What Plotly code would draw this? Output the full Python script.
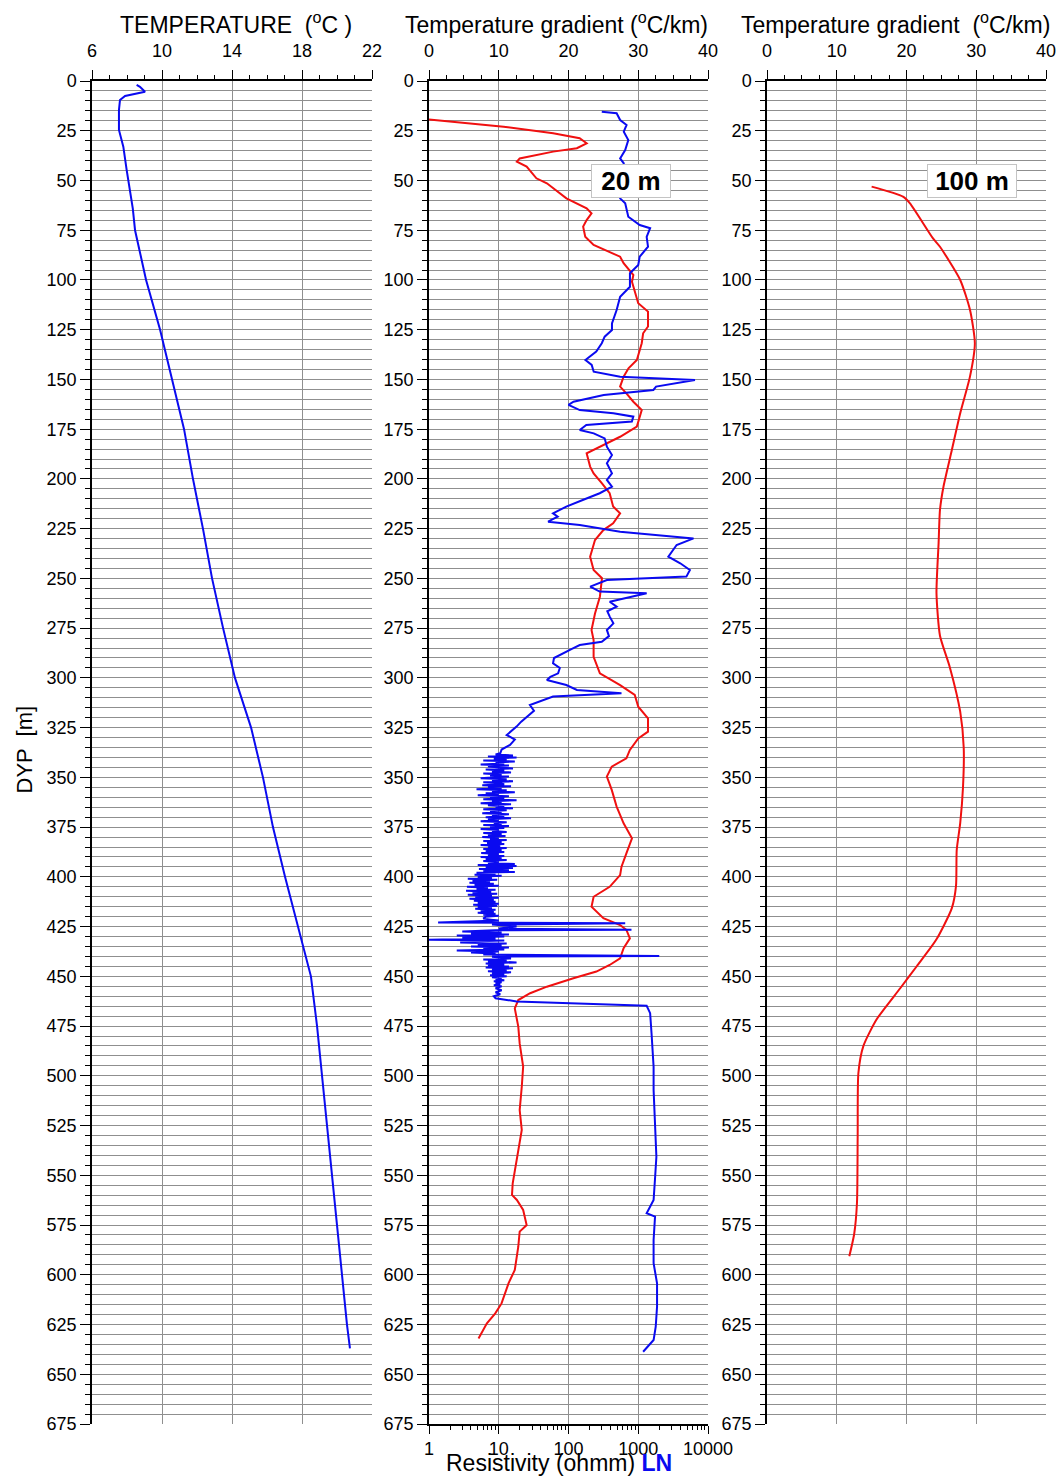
import plotly.graph_objects as go

# ---------------- data ----------------
# Temperature log
temp_depth = [2.0, 2.9, 5.4, 6.2, 7.5, 9.5, 14.6, 24.6, 29.7, 33, 44.7, 56.4, 64, 75,
              100, 125, 150, 175, 200, 225, 250, 275, 300, 325, 350, 375, 400, 425,
              450, 475, 500, 525, 550, 575, 600, 625, 637]
temp_c = [8.55, 8.74, 9.03, 8.55, 7.89, 7.6, 7.54, 7.54, 7.70, 7.79, 7.98, 8.17, 8.33, 8.46,
          9.09, 9.89, 10.57, 11.26, 11.77, 12.34, 12.86, 13.49, 14.17, 15.09, 15.77, 16.34,
          17.03, 17.77, 18.51, 18.86, 19.14, 19.43, 19.71, 20.0, 20.29, 20.57, 20.74]

# Temperature gradient over 20 m intervals
grad20_depth = [19.3, 23, 26.3, 28.8, 31.3, 33.8, 35.5, 38.9, 40.5, 43, 48.9, 51.4, 59, 64,
                66.5, 69.9, 73.2, 78.3, 82.4, 85.8, 88.3, 91.6, 97.5, 100.9, 111.7, 115.9,
                123.4, 126.8, 131.8, 140.2, 144.4, 148.6, 153.6, 157, 161.2, 165.4, 173.7,
                178.8, 183, 187.1, 193.8, 197.2, 202.2, 207.2, 213.9, 217.3, 222.3, 225.7,
                230.7, 239.1, 245.8, 249.9, 259.2, 267.6, 275.9, 281, 289.4, 297.7, 303.6,
                308.6, 314.5, 320.3, 327, 330.4, 336.2, 340.4, 344.6, 349.6, 356.3, 364.7,
                373.1, 380.6, 388.2, 394.9, 399.1, 405, 410, 415, 420.8, 424.2, 426.7,
                430.9, 435.9, 440.9, 444.3, 447.6, 451, 455.2, 458.5, 461.9, 466.1, 475.3,
                483.7, 495.4, 505.5, 517.2, 527.2, 537.3, 547.3, 554, 559.9, 562.4, 567.4,
                575, 578.3, 585.9, 597.6, 604.3, 614.4, 619.4, 624.4, 632]
grad20 = [0, 10.7, 17.8, 21.6, 22.6, 21.2, 17.8, 13.0, 12.6, 14.0, 15.4, 16.9, 19.7, 22.6,
          23.3, 22.6, 22.1, 22.4, 23.6, 25.9, 27.4, 27.9, 29.3, 29.1, 30.0, 31.4,
          31.4, 30.7, 30.5, 29.8, 28.6, 27.9, 27.4, 28.3, 29.3, 30.5, 29.8,
          27.4, 25.0, 22.6, 23.1, 23.6, 24.8, 25.9, 26.4, 27.4, 26.4, 25.0,
          23.8, 23.1, 23.6, 24.8, 24.5, 23.8, 23.3, 23.6, 23.6, 24.5, 27.4,
          29.5, 30.0, 31.4, 31.4, 30.0, 28.8, 28.3, 26.2, 25.5, 26.2, 26.9,
          27.9, 29.1, 28.3, 27.6, 27.4, 25.9, 23.6, 23.3, 25.0, 27.4, 28.3,
          28.8, 27.9, 27.4, 25.9, 24.0, 20.7, 16.9, 14.5, 12.8, 12.3, 12.8,
          13.0, 13.5, 13.3, 13.0, 13.3, 12.8, 12.3, 12.0, 11.9, 12.6, 13.5,
          14.0, 13.0, 12.8, 12.3, 11.4, 10.4, 9.5, 8.3, 7.1]

# Resistivity log (LN), ohmm -- upper part, down to the conductive zone
res_upper_depth = [15.4, 16.2, 19.6, 22.1, 25.5, 29.7, 34.7, 38.9, 41.4, 46, 51, 55, 59,
                   61.5, 68.2, 72.4, 74, 78.3, 83.3, 88.3, 92.5, 96.6, 103.4, 108.4, 115.1,
                   121.8, 125.2, 128.5, 131.8, 136, 140.2, 142.7, 146.1, 148.6, 150.3, 153.6,
                   155.3, 157.8, 161.2, 162.8, 165.4, 167, 168.7, 171.2, 172.9, 175.4, 177.1,
                   179.6, 183.8, 188, 192.1, 197.2, 200.5, 203.9, 207.2, 210.6, 213.9, 217.3,
                   219, 221.5, 223.2, 226.5, 229.9, 233.2, 239.1, 242.4, 245.8, 249.1, 250.8,
                   254.1, 256.6, 257.5, 261.7, 264.2, 266.5, 269.2, 272.6, 275.9, 279, 281.8,
                   283.5, 285.5, 287.7, 290, 292.7, 295, 297.7, 299.5, 301.1, 303.6, 306.1,
                   307.7, 309.4, 311.5, 313.6, 316.5, 319.5, 322, 324.5, 327, 328.7, 331,
                   333.7, 336, 337.9]
res_upper_ohmm = [300, 490, 550, 680, 620, 720, 650, 550, 620, 600, 570, 540, 550,
                  650, 720, 1050, 1480, 1320, 1380, 1050, 1000, 760, 760, 550, 490,
                  420, 420, 330, 300, 250, 175, 215, 230, 550, 6500, 1800,
                  1650, 320, 118, 100, 145, 440, 850, 810, 180, 145, 230,
                  330, 355, 420, 355, 420, 355, 420, 280, 160, 93, 60,
                  70, 51, 145, 550, 6200, 3550, 2700, 4000, 5500, 4900, 355,
                  205, 280, 1320, 390, 490, 360, 390, 440, 355, 380, 300,
                  145, 110, 85, 62, 60, 75, 71, 55, 49, 93, 132,
                  575, 60, 40, 28, 32, 25, 21, 18, 15, 13, 17,
                  14.5, 11, 10.5]

# Conductive zone (dense 0.5 m readings)
res_band_depth = [338.5, 339, 339.5, 340, 340.5, 341, 341.5, 342, 342.5, 343,
                  343.5, 344, 344.5, 345, 345.5, 346, 346.5, 347, 347.5, 348,
                  348.5, 349, 349.5, 350, 350.5, 351, 351.5, 352, 352.5, 353,
                  353.5, 354, 354.5, 355, 355.5, 356, 356.5, 357, 357.5, 358,
                  358.5, 359, 359.5, 360, 360.5, 361, 361.5, 362, 362.5, 363,
                  363.5, 364, 364.5, 365, 365.5, 366, 366.5, 367, 367.5, 368,
                  368.5, 369, 369.5, 370, 370.5, 371, 371.5, 372, 372.5, 373,
                  373.5, 374, 374.5, 375, 375.5, 376, 376.5, 377, 377.5, 378,
                  378.5, 379, 379.5, 380, 380.5, 381, 381.5, 382, 382.5, 383,
                  383.5, 384, 384.5, 385, 385.5, 386, 386.5, 387, 387.5, 388,
                  388.5, 389, 389.5, 390, 390.5, 391, 391.5, 392, 392.5, 393,
                  393.5, 394, 394.5, 395, 395.5, 396, 396.5, 397, 397.5, 398,
                  398.5, 399, 399.5, 400, 400.5, 401, 401.5, 402, 402.5, 403,
                  403.5, 404, 404.5, 405, 405.5, 406, 406.5, 407, 407.5, 408,
                  408.5, 409, 409.5, 410, 410.5, 411, 411.5, 412, 412.5, 413,
                  413.5, 414, 414.5, 415, 415.5, 416, 416.5, 417, 417.5, 418,
                  418.5, 419, 419.5, 420,
                  421, 422, 423.0, 423.3, 423.6, 424, 425, 426, 426.6, 426.9,
                  427.5, 428, 428.5, 429, 429.5, 430, 430.5, 431, 431.6, 432, 432.5, 433,
                  433.5, 434, 434.5, 435, 435.5, 436, 436.5, 437, 437.5, 438, 438.5, 439,
                  439.8, 440.1,
                  441, 441.5, 442, 442.5, 443, 443.5, 444, 444.5, 445, 445.5, 446, 446.5,
                  447, 447.5, 448, 448.5, 449, 449.5, 450, 450.5, 451, 451.5, 452, 452.5,
                  453, 453.5, 454, 454.5, 455, 456, 457, 458, 459, 460, 461, 462, 462.6]
res_band_ohmm = [9, 16, 7, 18, 8.5, 13, 6, 17, 9, 12,
                 5.5, 14, 7, 10, 16, 6.5, 12, 8, 15, 6,
                 11, 7.5, 14, 9, 5.5, 13, 8, 16, 6, 10,
                 12, 5.8, 15, 7, 11, 4.8, 13, 8, 17, 6.5,
                 10, 5, 14, 7.5, 12, 6, 18, 8, 11, 5.5,
                 15, 7, 12, 9, 16, 6, 13, 7.5, 11, 5.8,
                 14, 8, 12, 6.5, 15, 7, 10, 5.5, 13, 8.5,
                 11, 6, 14, 7.5, 12, 5.5, 10, 8, 13, 6,
                 11, 7, 12.5, 5.8, 10, 7.5, 13, 6, 11, 6.8,
                 12, 5.5, 10.5, 7, 13, 6, 11, 6.5, 12, 5.6,
                 10, 7, 12, 5.5, 11, 6.5, 13, 6, 10, 7,
                 17, 5, 18, 6.5, 16, 5.2, 14, 6, 17, 4.8,
                 9, 4.5, 11, 5, 8, 3.6, 9.5, 4.2, 7.5, 3.8,
                 8.5, 4.5, 10, 3.5, 7, 4.8, 9, 3.4, 7.8, 4.2,
                 9.5, 3.6, 8, 4.6, 10, 3.8, 8.5, 4.4, 9, 5,
                 10, 4.3, 9.5, 5, 8, 4.6, 9, 5.5, 8.5, 5,
                 9, 6, 10, 6.5,
                 6, 10, 1.35, 650, 12, 8, 18, 10, 800, 9,
                 3, 11, 4, 14, 2.5, 12, 3, 9, 1.0, 12, 4.5, 2.8,
                 13, 5, 11, 4, 14, 6, 12, 2.5, 10, 4, 9, 6,
                 2000, 8,
                 15, 6, 13, 7, 18, 6.5, 12, 7, 14, 6.5, 16, 8,
                 13, 7, 15, 8, 12, 7.5, 13, 8, 11, 9, 12, 8.5,
                 11, 9, 10.5, 8.5, 11, 9, 11, 9, 10.5, 8.5, 9, 14, 18]

# Resistivity below the conductive zone
res_lower_depth = [464.8, 468.5, 478.6, 495.4, 507.1, 523.9, 540.7, 551.6, 562.4, 569.1,
                   570.8, 582.5, 594.2, 604.3, 616, 626.1, 632.8, 638.7]
res_lower_ohmm = [1320, 1480, 1550, 1660, 1660, 1740, 1820, 1740, 1660, 1320,
                  1740, 1660, 1660, 1860, 1860, 1780, 1660, 1175]

# Temperature gradient over 100 m intervals
grad100_depth = [53.1, 58.1, 61.5, 79.1, 83.3, 100, 115, 131.8, 148.6, 167, 185.5, 203.9,
                 215.6, 232.4, 257.5, 278.8, 294.5, 317, 334.9, 355, 373, 386.5, 404.5,
                 415.7, 431.4, 444.8, 456, 471.7, 485.2, 498.7, 530, 563.8, 579.5, 590.7]
grad100 = [15.0, 19.5, 20.5, 23.8, 24.8, 27.7, 29.1, 29.8, 29.1, 27.7, 26.5, 25.3,
           24.8, 24.6, 24.3, 24.8, 26.2, 27.7, 28.2, 28.1, 27.7, 27.2, 27.1,
           26.5, 24.3, 21.5, 19.1, 15.7, 13.8, 13.1, 13.0, 12.9, 12.5, 11.8]

depth_range = [675, 0]
temp_ticks = [6, 10, 14, 18, 22]
grad_ticks = [0, 10, 20, 30, 40]
res_ticks = [1, 10, 100, 1000, 10000]
res_minor = [m * 10 ** e for e in range(4) for m in range(2, 10)]

res_depth = res_upper_depth + res_band_depth + res_lower_depth
res_ohmm = res_upper_ohmm + res_band_ohmm + res_lower_ohmm
assert len(res_depth) == len(res_ohmm)

# ---------------- layout helpers ----------------
W, H = 1060, 1477
FONT = "Arial, Liberation Sans, sans-serif"
GRID = "#8f8f8f"


def fx(px):
    return px / W


def fy(py):
    return 1 - py / H


y_dom = [fy(1424), fy(81)]
x_doms = [[fx(92), fx(372)], [fx(429), fx(708)], [fx(767), fx(1046)]]

fig = go.Figure()

fig.add_trace(go.Scatter(x=temp_c, y=temp_depth, mode="lines",
                         line=dict(color="#0a0af0", width=2), xaxis="x", yaxis="y"))
fig.add_trace(go.Scatter(x=res_ohmm, y=res_depth, mode="lines",
                         line=dict(color="#0a0af0", width=2), xaxis="x4", yaxis="y2"))
fig.add_trace(go.Scatter(x=grad20, y=grad20_depth, mode="lines",
                         line=dict(color="#f01010", width=2), xaxis="x2", yaxis="y2"))
fig.add_trace(go.Scatter(x=grad100, y=grad100_depth, mode="lines",
                         line=dict(color="#f01010", width=2, shape="spline", smoothing=0.6),
                         xaxis="x3", yaxis="y3"))

tick_font = dict(family=FONT, size=18, color="black")


def top_axis(dom, rng, ticks, minor_dt, anchor):
    return dict(domain=dom, range=rng, side="top", anchor=anchor, automargin=False,
                tickmode="array", tickvals=ticks, ticks="outside", ticklen=9,
                ticklabelstandoff=6,
                tickcolor="black", tickwidth=1, showline=True, linecolor="black",
                linewidth=1.5, showgrid=True, gridcolor=GRID, gridwidth=1,
                zeroline=False, tickfont=tick_font,
                minor=dict(dtick=minor_dt, tick0=rng[0], ticks="outside", ticklen=4,
                           tickcolor="black", showgrid=False))


def depth_axis(anchor):
    return dict(domain=y_dom, range=depth_range, anchor=anchor, automargin=False,
                dtick=25, tick0=0,
                ticks="outside", ticklen=10, tickcolor="black", showline=True,
                linecolor="black", linewidth=1.5, showgrid=True, gridcolor=GRID,
                gridwidth=1, zeroline=False, tickfont=tick_font,
                minor=dict(dtick=5, tick0=0, ticks="outside", ticklen=5,
                           tickcolor="black", showgrid=True, gridcolor=GRID, gridwidth=1))


fig.update_layout(
    width=W, height=H, autosize=False,
    margin=dict(l=0, r=0, t=0, b=0, pad=0),
    paper_bgcolor="white", plot_bgcolor="white",
    showlegend=False,
    font=dict(family=FONT, color="black"),
    xaxis=top_axis(x_doms[0], [6, 22], temp_ticks, 1, "y"),
    xaxis2=top_axis(x_doms[1], [0, 40], grad_ticks, 2.5, "y2"),
    xaxis3=top_axis(x_doms[2], [0, 40], grad_ticks, 2.5, "y3"),
    xaxis4=dict(domain=x_doms[1], type="log", range=[0, 4], side="bottom", anchor="y2",
                overlaying="x2", automargin=False, tickmode="array", tickvals=res_ticks,
                ticktext=[str(v) for v in res_ticks], ticks="outside", ticklen=8,
                tickcolor="black", showline=True, linecolor="black", linewidth=1.5,
                showgrid=False, zeroline=False, tickfont=tick_font,
                minor=dict(tickmode="array", tickvals=res_minor, ticks="outside",
                           ticklen=4, tickcolor="black", showgrid=False)),
    yaxis=depth_axis("x"),
    yaxis2=depth_axis("x2"),
    yaxis3=depth_axis("x3"),
)

title_font = dict(family=FONT, size=23, color="black")
annotations = [
    dict(text="TEMPERATURE  (<sup>o</sup>C )", x=fx(236), y=fy(23)),
    dict(text="Temperature gradient (<sup>o</sup>C/km)", x=fx(556), y=fy(23)),
    dict(text="Temperature gradient  (<sup>o</sup>C/km)", x=fx(895), y=fy(23)),
    dict(text="Resistivity (ohmm) <span style='color:#0a0af0'><b>LN</b></span>",
         x=fx(559), y=fy(1463)),
]
for a in annotations:
    fig.add_annotation(xref="paper", yref="paper", xanchor="center", yanchor="middle",
                       showarrow=False, font=title_font, **a)

fig.add_annotation(text="DYP  [m]", xref="paper", yref="paper", x=fx(9), y=fy(750),
                   xanchor="left", yanchor="middle",
                   textangle=-90, showarrow=False, font=dict(family=FONT, size=22))

box_font = dict(family=FONT, size=26, color="black")
fig.add_annotation(text="<b>20 m</b>", xref="x2", yref="y2", x=29.0, y=50.3,
                   showarrow=False, font=box_font, bgcolor="white",
                   bordercolor="#c4c4c4", borderwidth=1, width=76, height=30)
fig.add_annotation(text="<b>100 m</b>", xref="x3", yref="y3", x=29.4, y=50.3,
                   showarrow=False, font=box_font, bgcolor="white",
                   bordercolor="#c4c4c4", borderwidth=1, width=86, height=30)

fig.write_html("out.html")
